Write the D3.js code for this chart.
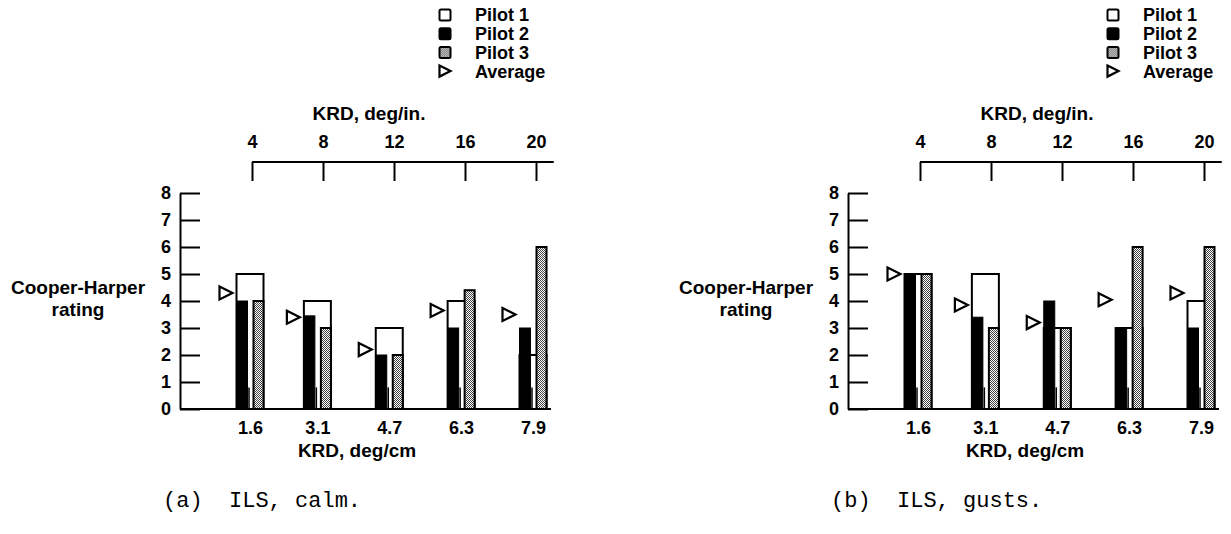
<!DOCTYPE html>
<html>
<head>
<meta charset="utf-8">
<script src="https://cdn.jsdelivr.net/npm/d3@7"></script>
<style>
  body { margin: 0; background: #fff; }
  svg { display: block; }
  text { font-family: "Liberation Sans", Arial, sans-serif; font-weight: bold; fill: #000; }
  .axis path, .axis line { stroke: #000; stroke-width: 2; }
  .axis text { font-size: 18px; }
  .title { font-size: 19px; }
  .caption { font-family: "Liberation Mono", "Courier New", monospace; font-weight: normal; font-size: 22px; }
</style>
</head>
<body>
<script>
// KRD settings and ratings
var krdCm = [1.6, 3.1, 4.7, 6.3, 7.9];
var krdIn = [4, 8, 12, 16, 20];
var ratingTicks = [0, 1, 2, 3, 4, 5, 6, 7, 8];

var pilot1Calm = [5, 4, 3, 4, 2];
var pilot2Calm = [4, 3.45, 2, 3, 3];
var pilot3Calm = [4, 3, 2, 4.4, 6];
var avgCalm = [4.3, 3.4, 2.2, 3.65, 3.5];

var pilot1Gusts = [5, 5, 3, 3, 4];
var pilot2Gusts = [5, 3.4, 4, 3, 3];
var pilot3Gusts = [5, 3, 3, 6, 6];
var avgGusts = [5, 3.85, 3.2, 4.05, 4.3];

var legendNames = ["Pilot 1", "Pilot 2", "Pilot 3", "Average"];

var width = 1231, height = 534;

var svg = d3.select("body").append("svg")
    .attr("width", width)
    .attr("height", height);

// stipple fill for pilot 3
var pat = svg.append("defs").append("pattern")
    .attr("id", "stipple")
    .attr("width", 2)
    .attr("height", 2)
    .attr("patternUnits", "userSpaceOnUse");
pat.append("rect").attr("width", 2).attr("height", 2).attr("fill", "#fff");
pat.append("rect").attr("width", 1).attr("height", 1).attr("fill", "#444");
pat.append("rect").attr("x", 1).attr("y", 1).attr("width", 1).attr("height", 1).attr("fill", "#444");

function triangle(cx, cy, s) {
  return "M" + (cx - s / 2) + "," + (cy - s / 2) + "L" + (cx + s / 2) + "," + cy + "L" + (cx - s / 2) + "," + (cy + s / 2) + "Z";
}

function panel(ox, p1, p2, p3, avg, caption) {
  var g = svg.append("g").attr("transform", "translate(" + ox + ",0)");

  var x = d3.scaleLinear().domain([1.6, 7.9]).range([250, 533]),
      xTop = d3.scaleLinear().domain([4, 20]).range([252, 536]),
      y = d3.scaleLinear().domain([0, 8]).range([409, 193]),
      half = 13.5;

  // legend
  var leg = g.selectAll(".leg")
      .data(legendNames)
    .enter().append("g")
      .attr("class", "leg")
      .attr("transform", function(d, i) { return "translate(445," + (15 + i * 18.7) + ")"; });

  leg.filter(function(d, i) { return i < 3; }).append("rect")
      .attr("x", -5.5)
      .attr("y", -5.5)
      .attr("width", 11)
      .attr("height", 11)
      .attr("rx", 1.5)
      .attr("stroke", "#000")
      .attr("stroke-width", 2)
      .attr("fill", function(d, i) { return ["#fff", "#000", "url(#stipple)"][i]; });

  leg.filter(function(d, i) { return i === 3; }).append("path")
      .attr("d", triangle(0, 0, 11))
      .attr("fill", "#fff")
      .attr("stroke", "#000")
      .attr("stroke-width", 2.2);

  leg.append("text")
      .attr("x", 30)
      .attr("dy", ".36em")
      .style("font-size", "18px")
      .text(function(d) { return d; });

  // top axis, deg/in.
  g.append("text")
      .attr("class", "title")
      .attr("x", 369)
      .attr("y", 120)
      .style("text-anchor", "middle")
      .text("KRD, deg/in.");

  var top = g.append("g")
      .attr("class", "axis")
      .attr("transform", "translate(0,162)")
      .call(d3.axisTop(xTop).tickValues(krdIn).tickSizeInner(-19).tickSizeOuter(0).tickPadding(14));
  top.select(".domain").remove();
  top.append("line")
      .attr("x1", xTop(4))
      .attr("x2", xTop(21))
      .attr("stroke", "#000")
      .attr("stroke-width", 2);
  top.selectAll("text").attr("fill", "#000");

  // y axis
  var ya = g.append("g")
      .attr("class", "axis")
      .attr("transform", "translate(180,0)")
      .call(d3.axisLeft(y).tickValues(ratingTicks).tickSizeInner(-20).tickSizeOuter(0).tickPadding(9));
  ya.selectAll("text").attr("fill", "#000");

  g.append("text")
      .attr("class", "title")
      .attr("x", 78)
      .attr("y", 294)
      .style("text-anchor", "middle")
      .text("Cooper-Harper");
  g.append("text")
      .attr("class", "title")
      .attr("x", 78)
      .attr("y", 316)
      .style("text-anchor", "middle")
      .text("rating");

  // bars
  var grp = g.selectAll(".grp")
      .data(krdCm)
    .enter().append("g")
      .attr("class", "grp");

  grp.append("rect")
      .attr("x", function(d) { return x(d) - half; })
      .attr("y", function(d, i) { return y(p1[i]); })
      .attr("width", half * 2)
      .attr("height", function(d, i) { return y(0) - y(p1[i]); })
      .attr("fill", "#fff")
      .attr("stroke", "#000")
      .attr("stroke-width", 2);

  grp.append("rect")
      .attr("x", function(d) { return x(d) - half; })
      .attr("y", function(d, i) { return y(p2[i]); })
      .attr("width", 11)
      .attr("height", function(d, i) { return y(0) - y(p2[i]); })
      .attr("fill", "#000")
      .attr("stroke", "#000")
      .attr("stroke-width", 1);

  grp.append("rect")
      .attr("x", function(d) { return x(d) + half - 10; })
      .attr("y", function(d, i) { return y(p3[i]); })
      .attr("width", 10)
      .attr("height", function(d, i) { return y(0) - y(p3[i]); })
      .attr("fill", "url(#stipple)")
      .attr("stroke", "#000")
      .attr("stroke-width", 2);

  // small mark at the foot of each group
  grp.append("line")
      .attr("x1", function(d) { return x(d) - 1; })
      .attr("x2", function(d) { return x(d) - 1; })
      .attr("y1", y(0))
      .attr("y2", y(0.8))
      .attr("stroke", "#000")
      .attr("stroke-width", 1.5);

  grp.append("path")
      .attr("d", function(d, i) { return triangle(x(d) - 24, y(avg[i]), 13); })
      .attr("fill", "#fff")
      .attr("stroke", "#000")
      .attr("stroke-width", 2.2);

  // bottom axis, deg/cm
  var bot = g.append("g")
      .attr("class", "axis")
      .attr("transform", "translate(0," + y(0) + ")")
      .call(d3.axisBottom(x).tickValues(krdCm).tickFormat(d3.format(".1f")).tickSize(0).tickPadding(12));
  bot.select(".domain").remove();
  bot.append("line")
      .attr("x1", 180)
      .attr("x2", x(8.3))
      .attr("stroke", "#000")
      .attr("stroke-width", 2);
  bot.selectAll("text").attr("fill", "#000");

  g.append("text")
      .attr("class", "title")
      .attr("x", 357)
      .attr("y", 457)
      .style("text-anchor", "middle")
      .text("KRD, deg/cm");

  g.append("text")
      .attr("class", "caption")
      .attr("x", 163)
      .attr("y", 507)
      .style("white-space", "pre")
      .text(caption);
}

panel(0, pilot1Calm, pilot2Calm, pilot3Calm, avgCalm, "(a)  ILS, calm.");
panel(668, pilot1Gusts, pilot2Gusts, pilot3Gusts, avgGusts, "(b)  ILS, gusts.");
</script>
</body>
</html>
